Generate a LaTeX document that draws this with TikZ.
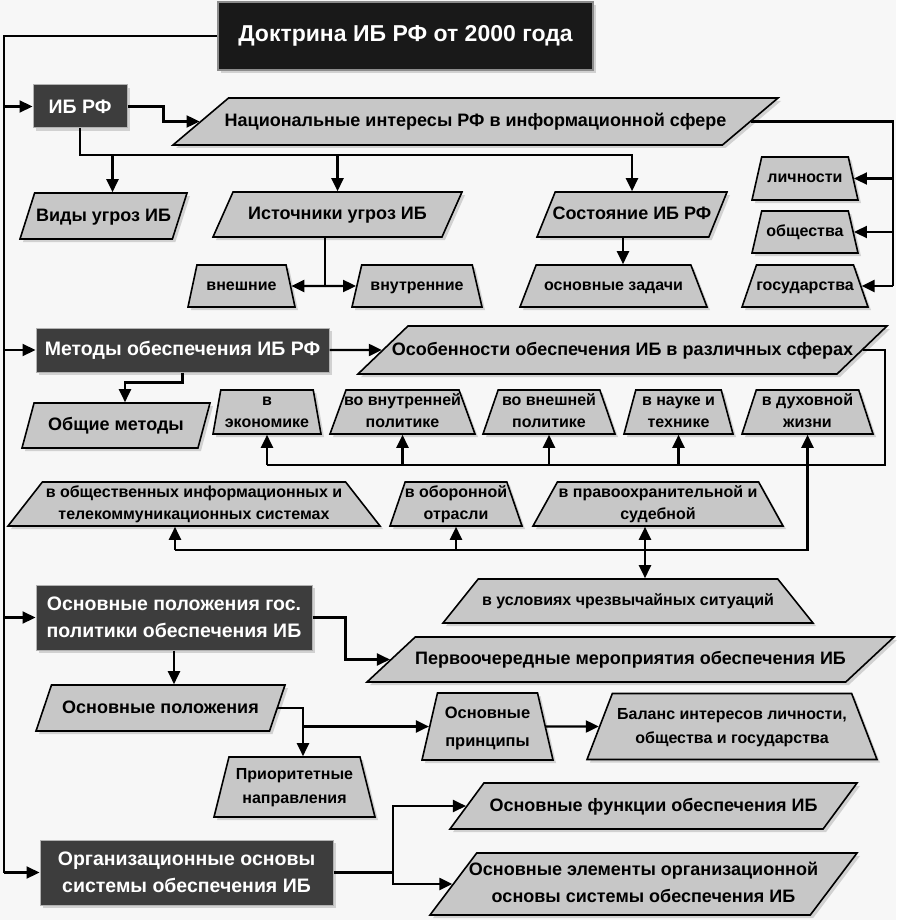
\documentclass[tikz,border=0pt]{standalone}
\usepackage{fontspec}
\setmainfont{Liberation Sans}
\usepackage{tikz}
\usetikzlibrary{shapes.geometric, arrows.meta, shadows}

\newcommand{\bigtxt}{\fontsize{18}{27}\selectfont\bfseries}
\newcommand{\smalltxt}{\fontsize{16}{22}\selectfont\bfseries}

\begin{document}
\begin{tikzpicture}[
    x=1pt, y=-1pt,
    shade/.style={drop shadow={shadow xshift=3pt, shadow yshift=-3pt, fill=black!40, opacity=0.4}},
    dims/.style 2 args={minimum width=#1pt, minimum height=#2pt},
    struts/.style={execute at begin node=\strut, execute at end node=\strut},
    titlebox/.style={rectangle, fill=black!90, draw=black!45, line width=2pt, text=white,
                     font=\fontsize{23}{28}\selectfont\bfseries, shade},
    dark/.style={rectangle, fill=black!76, draw=black!30, line width=1pt, text=white,
                 align=center, inner sep=0pt, font=\fontsize{19.5}{27}\selectfont\bfseries, shade},
    shp/.style={trapezium, trapezium stretches body, draw=black, line width=1.6pt,
                fill=black!22, align=center, inner xsep=-20pt, struts, shade},
    para/.style={shp, font=\bigtxt, inner ysep=9pt, trapezium left angle=#1,
                 trapezium right angle=\the\numexpr180-#1\relax},
    trap/.style={shp, font=\smalltxt, inner ysep=10pt, trapezium left angle=#1, trapezium right angle=#1},
    % two lines: height = .7 skip + skip, depth = .3 skip
    twoline/.style={inner ysep=#1, text height=37.4pt, text depth=6.6pt},
    twoline/.default=0pt,
    link/.style={line width=2.2pt},
    arrow/.style={link, -{Triangle[length=13pt, width=12pt]}},
    dblarrow/.style={link, {Triangle[length=13pt, width=12pt]}-{Triangle[length=13pt, width=12pt]}},
]
\useasboundingbox (0,0) rectangle (896,920);
\fill[black!3] (0,0) rectangle (896,920);

% main blocks
\node[titlebox, dims={375}{68}] (title) at (405.5,36) {Доктрина ИБ РФ от 2000 года};
\node[dark, dims={94}{43}] (ibrf) at (80,106.5) {ИБ РФ};
\node[dark, dims={293}{44}] (metody) at (182.5,350) {Методы обеспечения ИБ РФ};
\node[dark, dims={276}{65}] (osnpolgos) at (174,617.5) {Основные положения гос.\\политики обеспечения ИБ};
\node[dark, dims={293}{65}] (org) at (186.5,872.5) {Организационные основы\\системы обеспечения ИБ};

% ИБ РФ
\node[para=39, dims={605}{47}] (nat) at (475.5,121.5) {Национальные интересы РФ в информационной сфере};
\node[para=72, dims={167}{46}] (vidy) at (103.5,216) {Виды угроз ИБ};
\node[para=66, dims={249}{45}] (ist) at (337.5,214.5) {Источники угроз ИБ};
\node[para=68, dims={190}{45}] (sost) at (632,214.5) {Состояние ИБ РФ};
\node[trap=78, dims={107}{42}] (vnesh) at (241.5,286) {внешние};
\node[trap=77, dims={130}{42}] (vnutr) at (417,286) {внутренние};
\node[trap=69, dims={187}{42}] (zadachi) at (613.5,286) {основные задачи};
\node[trap=77, dims={106}{43}] (lichn) at (805,178.5) {личности};
\node[trap=77, dims={106}{42}] (obsch) at (805,232) {общества};
\node[trap=71, dims={126}{42}] (gosud) at (805,286) {государства};

% методы
\node[para=42, dims={529}{48}] (osob) at (622.5,350) {Особенности обеспечения ИБ в различных сферах};
\node[para=75, dims={188}{45}] (obshmet) at (116,425.5) {Общие методы};
\node[trap=80, twoline, dims={108}{44}] (econ) at (267,412) {в\\экономике};
\node[trap=70, twoline, dims={145}{44}] (vnutpol) at (402.5,412) {во внутренней\\политике};
\node[trap=71, twoline, dims={132}{44}] (vneshpol) at (549,412) {во внешней\\политике};
\node[trap=75, twoline, dims={109}{44}] (nauka) at (678.5,412) {в науке и\\технике};
\node[trap=72, twoline, dims={131}{44}] (duh) at (807.5,412) {в духовной\\жизни};
\node[trap=52, twoline, dims={372}{43}] (obsh) at (194,504) {в общественных информационных и\\телекоммуникационных системах};
\node[trap=71, twoline, dims={132}{43}] (obor) at (456,504) {в оборонной\\отрасли};
\node[trap=61, twoline, dims={250}{43}] (pravo) at (658,504) {в правоохранительной и\\судебной};
\node[trap=50, dims={370}{44}] (chrez) at (628,601) {в условиях чрезвычайных ситуаций};

% гос. политика
\node[para=43, dims={527}{45}] (perv) at (630.5,659.5) {Первоочередные мероприятия обеспечения ИБ};
\node[para=71, dims={249}{46}] (osnpol) at (160.5,708) {Основные положения};
\node[trap=77, dims={131}{67}, inner ysep=5.5pt, text height=47.6pt, text depth=8.4pt,
      font=\fontsize{16.5}{28}\selectfont\bfseries] (princ) at (487.5,726.5) {Основные\\принципы};
\node[trap=69, dims={290}{66}, inner ysep=9pt, text height=40.8pt, text depth=7.2pt,
      font=\fontsize{16}{24}\selectfont\bfseries] (balans) at (732,726.5) {Баланс интересов личности,\\общества и государства};
\node[trap=76, dims={161}{60}, inner ysep=6pt, text height=40.8pt, text depth=7.2pt,
      font=\fontsize{16}{24}\selectfont\bfseries] (prior) at (294.5,787) {Приоритетные\\направления};

% организационные основы
\node[para=53, dims={407}{46}] (func) at (653.5,806) {Основные функции обеспечения ИБ};
\node[para=53, dims={427}{62}, inner ysep=4pt, text height=45.9pt, text depth=8.1pt] (elem) at (643.5,884) {Основные элементы организационной\\основы системы обеспечения ИБ};

% left spine
\coordinate (spine) at (4,36);
\draw[link] (title.west) -- (spine) -- (spine |- org.west);
\foreach \n in {ibrf,metody,osnpolgos,org}
    \draw[arrow] (spine |- \n.west) -- (\n.west);

% from ИБ РФ
\draw[arrow] (ibrf.east) -- ++(36,0) |- (nat.west);
\coordinate (bus1) at (0,155);
\coordinate (v1) at ([xshift=9pt]vidy.north);
\draw[arrow] (ibrf.south) |- (bus1 -| sost.north) -- (sost.north);
\draw[arrow] (v1 |- bus1) -- (v1);
\draw[arrow] (ist.north |- bus1) -- (ist.north);

\coordinate (fork) at (325,286);
\draw[link] (ist.south -| fork) -- (fork);
\draw[arrow] (fork) -- (vnesh.east);
\draw[arrow] (fork) -- (vnutr.west);

\coordinate (s1) at (623,0);
\draw[arrow] (sost.south -| s1) -- (zadachi.north -| s1);

\coordinate (rs1) at (893,0);
\draw[link] (nat.east) -- (nat.east -| rs1) -- (rs1 |- gosud.east);
\foreach \n in {lichn,obsch,gosud}
    \draw[arrow] (rs1 |- \n.east) -- (\n.east);

% from методы
\draw[arrow] (metody.east) -- (osob.west);
\coordinate (m1) at (125,0);
\draw[arrow] (metody.south) -- ++(0,10) -| (m1 |- obshmet.north);

\coordinate (rs2) at (885,0);
\coordinate (bus2) at (0,465);
\draw[link] (osob.east) -- (osob.east -| rs2) -- (rs2 |- bus2) -- (bus2 -| econ.south);
\foreach \n in {econ,vnutpol,vneshpol,nauka,duh}
    \draw[arrow] (bus2 -| \n.south) -- (\n.south);

\coordinate (bus3) at (0,550);
\coordinate (o1) at (175,0);
\draw[link] (bus2 -| duh.south) -- (bus3 -| duh.south) -- (bus3 -| o1);
\draw[arrow] (bus3 -| o1) -- (o1 |- obsh.south);
\draw[arrow] (bus3 -| obor.south) -- (obor.south);
\coordinate (p1) at (645,0);
\draw[dblarrow] (p1 |- pravo.south) -- (p1 |- chrez.north);

% from гос. политика
\draw[arrow] (osnpolgos.east) -- ++(33,0) |- (perv.west);
\draw[arrow] (osnpolgos.south) -- (osnpolgos.south |- osnpol.north);
\coordinate (q1) at (303,0);
\draw[arrow] (osnpol.east) -| (q1 |- prior.north);
\draw[arrow] (q1 |- princ.west) -- (princ.west);
\draw[arrow] (princ.east) -- (balans.west);

% from организационные основы
\coordinate (r1) at (393,0);
\draw[link] (org.east) -- (org.east -| r1);
\draw[arrow] (org.east -| r1) |- (func.west);
\draw[arrow] (org.east -| r1) |- (elem.west);
\end{tikzpicture}
\end{document}
